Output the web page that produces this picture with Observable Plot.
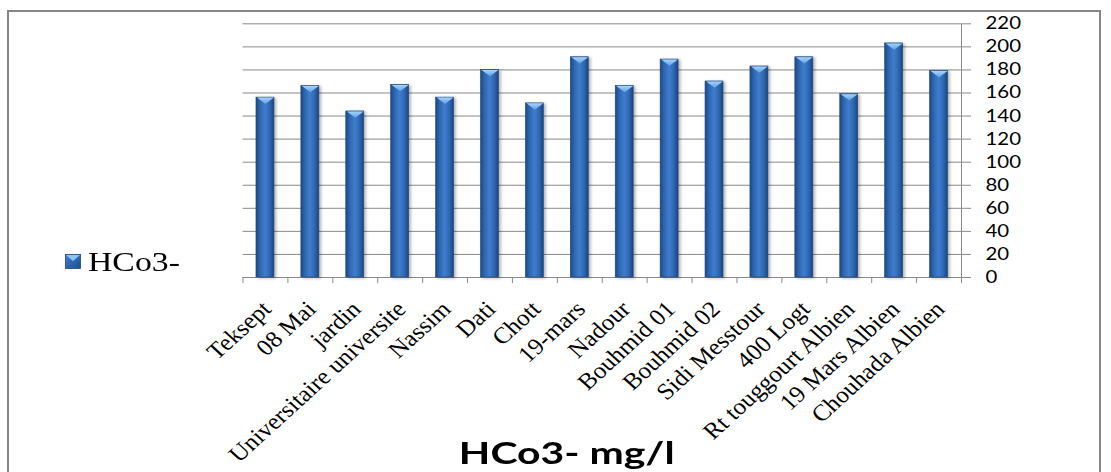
<!DOCTYPE html>
<html>
<head>
<meta charset="utf-8">
<script src="https://cdn.jsdelivr.net/npm/d3@7"></script>
<script src="https://cdn.jsdelivr.net/npm/@observablehq/plot@0.6"></script>
<style>
  body { margin: 0; background: #fff; }
  #chart { position: relative; width: 1111px; height: 472px; overflow: hidden; background: #fff; }
  #frame { position: absolute; left: 7px; top: 10px; width: 1094px; height: 520px;
           border: 2px solid #868686; box-sizing: border-box; }
  #plot { position: absolute; left: 0; top: 0; }
  #swatch { position: absolute; left: 65px; top: 254px; }
  #legendText { position: absolute; left: 88px; top: 249px; font: 27px/27px "Liberation Serif", serif;
                color: #000; transform: scaleX(1.25); transform-origin: left center; white-space: nowrap; }
  #title { position: absolute; left: 0; top: 437px; width: 1133px; text-align: center; }
  #title span { display: inline-block; font: bold 31px/31px Lato, sans-serif; color: #000;
                transform: scaleX(1.32); white-space: nowrap; }
</style>
</head>
<body>
<div id="chart">
  <div id="frame"></div>
  <div id="plot"></div>
  <svg id="swatch" width="16" height="15" viewBox="0 0 16 15">
    <defs>
      <linearGradient id="swatchFill" x1="0" x2="1" y1="0" y2="1">
        <stop offset="0" stop-color="#3f7fcf"/>
        <stop offset="1" stop-color="#1f4f8f"/>
      </linearGradient>
    </defs>
    <rect x="0.5" y="0.5" width="15" height="14" fill="url(#swatchFill)" stroke="#1f477c" stroke-width="0.8"/>
    <path d="M1,1 L15,1 L8,7 Z" fill="#8cc4f5"/>
  </svg>
  <div id="legendText">HCo3-</div>
  <div id="title"><span>HCo3- mg/l</span></div>
</div>
<script>
// Sampling sites and their bicarbonate concentrations (mg/l)
const sites = [
  "Teksept", "08 Mai", "jardin", "Universitaire universite", "Nassim", "Dati",
  "Chott", "19-mars", "Nadour", "Bouhmid 01", "Bouhmid 02", "Sidi Messtour",
  "400 Logt", "Rt touggourt Albien", "19 Mars Albien", "Chouhada Albien"
];
const hco3 = [156, 166, 144, 167, 156, 180, 151, 191, 166, 189, 170, 183, 191, 159, 203, 179];
const yTicks = [0, 20, 40, 60, 80, 100, 120, 140, 160, 180, 200, 220];

const rows = sites.map((site, i) => ({site, value: hco3[i]}));

const W = 1111, H = 472;
const mLeft = 242.5, mRight = 150, mTop = 23.3, mBottom = 195;
const step = (W - mLeft - mRight) / sites.length;
const gridColor = "#8a8a8a";

// Light bevel drawn across the top of each column
const bevel = {
  draw(context, size) {
    const r = Math.sqrt(size / Math.PI);
    context.moveTo(-r, 0);
    context.lineTo(r, 0);
    context.lineTo(0, r * 0.75);
    context.closePath();
  }
};

const svg = Plot.plot({
  width: W,
  height: H,
  marginLeft: mLeft,
  marginRight: mRight,
  marginTop: mTop,
  marginBottom: mBottom,
  x: {domain: sites, axis: null, paddingInner: 0.6, paddingOuter: 0.3, round: false},
  y: {domain: [0, 220]},
  marks: [
    Plot.gridY(yTicks, {stroke: gridColor, strokeOpacity: 1}),
    // category separators below the baseline
    Plot.ruleX(sites, {x: d => d, dx: -step / 2, y1: 0, y2: 0, insetBottom: -6, stroke: gridColor}),
    // value axis line on the right
    Plot.ruleX([sites[sites.length - 1]], {x: d => d, dx: step / 2, y1: 220, y2: 0, insetBottom: -6, stroke: gridColor}),
    Plot.barY(rows, {x: "site", y: "value", fill: "url(#hco3BarFill)", stroke: "#1f477c", strokeWidth: 0.6}),
    Plot.dot(rows, {x: "site", y: "value", symbol: bevel, r: 8.4, fill: "url(#hco3BevelFill)", stroke: "none"}),
    Plot.axisY({ticks: yTicks, anchor: "right", tickSize: 9, tickPadding: 15, stroke: gridColor,
                fill: "#000", fontSize: 17, fontFamily: "Lato", label: null}),
    // slanted site names under the columns
    Plot.text(sites, {x: d => d, y: 0, text: d => d, rotate: -45, textAnchor: "end", lineAnchor: "bottom",
                      dx: 7, dy: 33, fontSize: 23, fontFamily: "Liberation Serif", fill: "#000"})
  ]
});

const root = d3.select(svg);
root.insert("defs", ":first-child").html(`
  <linearGradient id="hco3BarFill" x1="0" x2="1" y1="0" y2="0">
    <stop offset="0" stop-color="#1d4882"/>
    <stop offset="0.22" stop-color="#2e66b0"/>
    <stop offset="0.5" stop-color="#3f7ecd"/>
    <stop offset="0.78" stop-color="#2e66b0"/>
    <stop offset="1" stop-color="#1b437c"/>
  </linearGradient>
  <linearGradient id="hco3BevelFill" x1="0" x2="0" y1="0" y2="1">
    <stop offset="0" stop-color="#a6d4fb"/>
    <stop offset="1" stop-color="#5d9fe6"/>
  </linearGradient>`);

// soft shadow behind the columns
root.select('g[aria-label="bar"]').style("filter", "drop-shadow(2px 1px 1.5px rgba(0,0,0,0.3))");

// wide lettering for the site names: stretch horizontally before the slant
root.selectAll('g[aria-label="text"] text').each(function () {
  const el = d3.select(this);
  const t = el.attr("transform") || "";
  const m = t.match(/translate\(\s*([-\d.e]+)[ ,]+([-\d.e]+)\s*\)/);
  const tx = m ? +m[1] : +(el.attr("x") || 0);
  const ty = m ? +m[2] : +(el.attr("y") || 0);
  el.attr("x", null).attr("y", null)
    .attr("transform", `translate(${tx},${ty}) scale(1.1,1) rotate(-45)`);
});
root.selectAll('g[aria-label="y-axis tick label"] text').attr("transform", function () {
  return (this.getAttribute("transform") || "") + " scale(1.2,1)";
});

document.getElementById("plot").appendChild(svg);
</script>
</body>
</html>
